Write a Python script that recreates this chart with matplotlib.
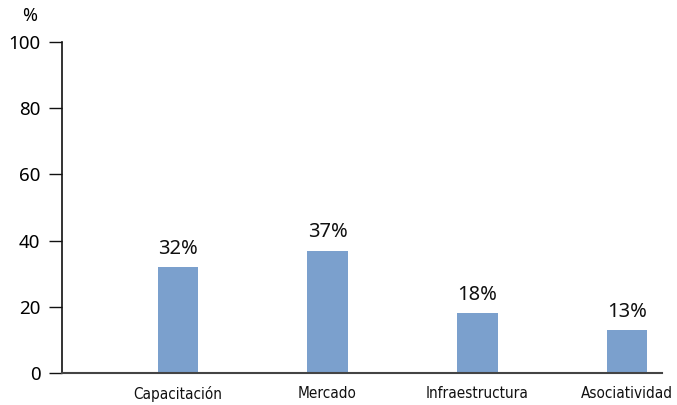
import matplotlib
matplotlib.use("Agg")
import matplotlib.pyplot as plt

categories = ["Capacitación", "Mercado", "Infraestructura", "Asociatividad"]
values = [32, 37, 18, 13]
labels = ["32%", "37%", "18%", "13%"]
yticks = [0, 20, 40, 60, 80, 100]

W, H = 677, 405
fig = plt.figure(figsize=(W / 100, H / 100), dpi=100)
ax = fig.add_axes([62 / W, (H - 373) / H, (662 - 62) / W, (373 - 42) / H])

x = list(range(len(categories)))
bars = ax.bar(x, values, width=0.27, color="#7BA0CD", zorder=2)
for xi, v, lab in zip(x, values, labels):
    ax.annotate(lab, (xi, v), xytext=(0, 6), textcoords="offset points",
                ha="center", va="bottom", fontsize=14.5, color="#111111",
                family="Noto Sans")

ax.set_xlim(-0.773, 3.233)
ax.set_ylim(0, 100)
ax.set_yticks(yticks)
ax.set_yticklabels([str(t) for t in yticks], fontsize=13.5, family="Noto Sans")
ax.set_xticks(x)
ax.set_xticklabels(categories)
for t in ax.get_xticklabels():
    t.set_fontfamily("DejaVu Sans")
    t.set_fontstretch("condensed")
    t.set_fontsize(11)
    t.set_color("#111111")

for s in ["top", "right"]:
    ax.spines[s].set_visible(False)
ax.spines["left"].set_color("#111111")
ax.spines["left"].set_linewidth(1.2)
ax.spines["bottom"].set_color("#444444")
ax.spines["bottom"].set_linewidth(1.5)
ax.tick_params(axis="y", direction="out", length=9.5, width=1.0, color="#111111", pad=6)
ax.tick_params(axis="x", length=0, pad=9)

fig.text(30 / W, 1 - 16 / H, "%", ha="center", va="center", fontsize=13, family="Noto Sans")

fig.savefig("out.png", dpi=100)
